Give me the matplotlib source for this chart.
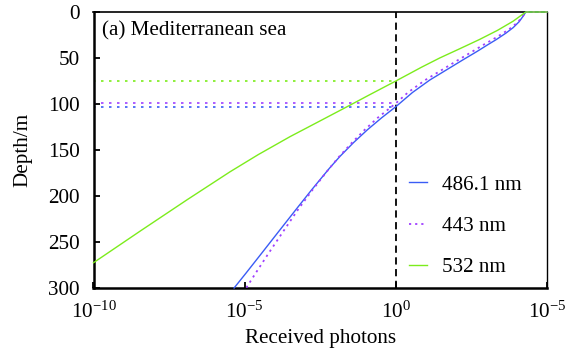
import matplotlib
matplotlib.use("Agg")
import matplotlib.pyplot as plt
import numpy as np

plt.rcParams['font.family'] = ['Liberation Serif', 'DejaVu Serif']
plt.rcParams['mathtext.fontset'] = 'custom'
plt.rcParams['mathtext.rm'] = 'Liberation Serif'
plt.rcParams['mathtext.it'] = 'Liberation Serif:italic'

# Data: depth (m) and log10(received photons)
blue_depth = [0, 0, 5, 10.5, 17, 23, 30, 36, 43, 52, 63, 74, 87.5, 102.9,
              115, 128, 142, 157, 170, 193.5, 215, 238.8, 262.3, 284, 300]
blue_log = [5.0, 4.3, 4.2, 4.08, 3.88, 3.64, 3.32, 3.02, 2.68, 2.22, 1.67, 1.12, 0.55, 0.0,
            -0.47, -0.94, -1.40, -1.85, -2.20, -2.79, -3.31, -3.88, -4.44, -4.96, -5.35]

purple_depth = [0, 0, 5, 10.5, 17, 23, 30, 36, 43, 52, 63, 74, 87.5, 99.2,
                115, 128, 142, 157, 170, 193.5, 215, 238.8, 262.3, 284, 300]
purple_log = [5.0, 4.3, 4.19, 4.05, 3.82, 3.55, 3.20, 2.88, 2.53, 2.07, 1.52, 0.97, 0.40, 0.0,
              -0.60, -1.03, -1.45, -1.87, -2.20, -2.76, -3.24, -3.73, -4.21, -4.64, -4.95]

green_depth = [0, 0, 10, 20, 30, 40, 50, 60, 75, 90, 101, 120, 135.5, 155,
               173.6, 204, 238, 272.5]
green_log = [5.0, 4.3, 3.88, 3.36, 2.76, 2.11, 1.45, 0.85, 0.0, -0.87, -1.5, -2.6, -3.5,
             -4.55, -5.48, -6.9, -8.45, -10.0]

labels = ['486.1 nm', '443 nm', '532 nm']
threshold_depths = {'486.1 nm': 102.9, '443 nm': 99.2, '532 nm': 75}

xtick_vals = [1e-10, 1e-5, 1e0, 1e5]
xtick_labels = [r'$\mathregular{10^{-10}}$', r'$\mathregular{10^{-5}}$',
                r'$\mathregular{10^{0}}$', r'$\mathregular{10^{-5}}$']
ytick_vals = [0, 50, 100, 150, 200, 250, 300]

c_blue = '#3a5cf5'
c_purple = '#a040ff'
c_green = '#7cec1c'

FS = 15.2

fig = plt.figure(figsize=(5.76, 3.59), dpi=100)
ax = fig.add_axes([93.5/576, 1-288/359, (547-93.5)/576, (288-12)/359])

ax.plot(10**np.array(blue_log), blue_depth, color=c_blue, lw=1.0, label=labels[0],
        zorder=3, clip_on=False)
ax.plot(10**np.array(purple_log), purple_depth, color=c_purple, lw=1.3,
        linestyle=(0, (1.2, 2.2)), label=labels[1], zorder=3, clip_on=False)
ax.plot(10**np.array(green_log), green_depth, color=c_green, lw=1.0, label=labels[2],
        zorder=3, clip_on=False)

# threshold lines
ax.plot([1e-10, 1e0], [threshold_depths['532 nm']]*2, color=c_green, lw=1.2, linestyle=(0, (1.5, 3.3)))
ax.plot([1e-10, 1e0], [threshold_depths['443 nm']]*2, color=c_purple, lw=1.2, linestyle=(0, (1.5, 3.3)))
ax.plot([1e-10, 1e0], [threshold_depths['486.1 nm']]*2, color=c_blue, lw=1.2, linestyle=(0, (1.5, 3.3)))
ax.axvline(1e0, color='black', lw=1.3, linestyle=(0, (4, 2.5)))

ax.set_xscale('log')
ax.set_xlim(1e-10, 1e5)
ax.set_ylim(300, 0)
ax.set_xticks(xtick_vals)
ax.set_xticklabels(xtick_labels)
ax.minorticks_off()
ax.set_yticks(ytick_vals)
ax.tick_params(axis='both', direction='in', length=4.5, width=1.3, labelsize=FS, pad=10)
ax.tick_params(axis='y', pad=10)

ax.spines['left'].set_linewidth(1.8)
ax.spines['bottom'].set_linewidth(1.8)
ax.spines['top'].set_linewidth(1.2)
ax.spines['right'].set_linewidth(1.0)

ax.set_xlabel('Received photons', fontsize=FS, labelpad=4)
ax.set_ylabel('Depth/m', fontsize=FS, labelpad=11)

ax.text(0.019, 0.931, '(a) Mediterranean sea', transform=ax.transAxes,
        fontsize=FS, va='center', ha='left')

leg = ax.legend(loc='upper left', bbox_to_anchor=(0.696, 0.41), frameon=False,
                fontsize=FS, handlelength=0.85, handletextpad=0.72,
                labelspacing=1.02, borderpad=0, borderaxespad=0)

fig.savefig('out.png', dpi=100)
